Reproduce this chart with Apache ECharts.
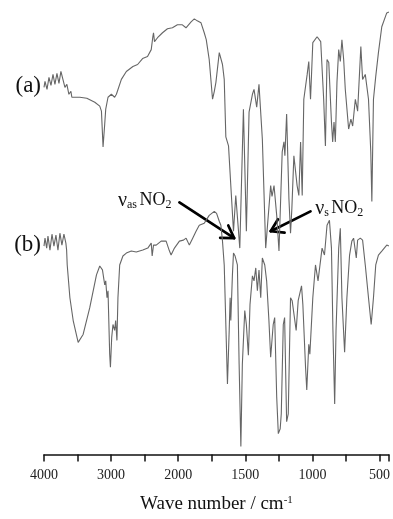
<!DOCTYPE html>
<html>
<head>
<meta charset="utf-8">
<script src="https://cdn.jsdelivr.net/npm/echarts@6/dist/echarts.min.js"></script>
<style>
html,body{margin:0;padding:0;background:#fff;}
#c{width:393px;height:519px;}
</style>
</head>
<body>
<div id="c"></div>
<script>
// Wavenumbers (cm-1) and relative transmittance (arbitrary units, offset traces)
const waveA = [4000,3985,3955,3926,3896,3866,3837,3807,3777,3748,3718,3688,3659,3629,3599,3585,3466,3362,3243,3169,3144,3120,3095,3080,3046,2996,2947,2921,2847,2773,2675,2605,2531,2457,2402,2378,2368,2353,2308,2234,2160,2086,2012,1969,1942,1904,1880,1858,1830,1806,1791,1769,1744,1731,1719,1694,1682,1670,1657,1645,1625,1608,1588,1571,1541,1514,1492,1472,1447,1435,1415,1398,1373,1348,1336,1311,1301,1286,1266,1249,1225,1212,1205,1192,1175,1163,1153,1138,1114,1101,1088,1076,1064,1039,1027,1014,997,965,953,938,916,903,891,878,858,849,839,829,817,804,792,780,767,755,730,713,700,680,663,639,626,606,582,565,557,545,528,508,483,446,430];
const transA = [370,376,368,380,372,383,373,384,374,386,378,370,373,363,366,360,360,359,355,351,346,310,333,348,360,363,360,363,378,386,391,393,399,401,408,421,425,416,420,425,429,430,433,433,430,436,439,437,435,425,418,398,358,366,375,405,406,393,378,320,311,271,225,261,208,348,225,345,363,368,350,373,318,208,206,271,260,271,241,205,305,315,301,343,258,223,248,301,271,261,315,261,358,383,396,358,415,421,421,416,358,311,398,395,335,315,335,315,375,408,396,418,398,368,328,338,331,358,346,411,378,383,358,305,255,358,381,405,431,445,446];

const waveB = [4000,3985,3960,3941,3911,3881,3852,3822,3792,3763,3733,3703,3674,3663,3654,3614,3565,3491,3466,3417,3318,3218,3169,3129,3095,3080,3061,3046,3021,3010,2991,2972,2947,2932,2913,2898,2872,2824,2773,2699,2625,2527,2453,2428,2402,2388,2368,2328,2254,2180,2130,2106,2056,1991,1961,1941,1917,1892,1867,1843,1806,1769,1731,1714,1694,1682,1670,1657,1633,1620,1613,1608,1596,1588,1576,1559,1546,1533,1522,1504,1492,1477,1465,1447,1435,1422,1410,1398,1385,1373,1355,1341,1324,1311,1292,1281,1266,1254,1240,1232,1217,1207,1192,1180,1163,1151,1121,1106,1081,1071,1051,1042,1027,1019,997,977,958,945,928,910,891,873,858,847,834,824,804,792,780,760,743,723,706,693,673,663,643,626,606,582,562,545,528,508,483,446,430];
const transB = [210,218,208,220,206,222,210,221,206,223,211,222,213,206,191,158,135,113,111,121,148,181,190,186,171,175,158,165,101,88,118,131,125,135,115,158,191,200,203,205,204,206,208,206,213,200,211,211,215,215,205,201,208,215,216,218,211,218,225,231,233,241,245,243,235,231,215,191,71,125,158,135,181,203,200,191,91,8,91,145,131,100,151,180,175,188,165,186,158,198,191,175,135,98,131,138,58,21,26,41,131,138,33,41,158,155,125,155,170,151,88,65,111,101,158,191,175,176,208,201,231,236,208,125,51,125,208,228,158,103,158,201,215,218,198,216,218,216,191,158,131,158,191,201,205,211,210];

const tickLabels = [4000, 3000, 2000, 1500, 1000, 500];
const traceNames = ['(a)', '(b)'];
const annotations = [
  {text: '{nu|\u03bd}{sub|as}{sp| }{m|NO}{sub|2}', at: [2500, 256], tail: [1991, 254], tip: [1583, 218]},
  {text: '{nu|\u03bd}{sub|s}{sp| }{m|NO}{sub|2}', at: [800, 248], tail: [1014, 245], tip: [1311, 225]}
];

// Split-scale IR axis: 4000-2000 compressed 2x relative to 2000-430
function toU(w) { return w >= 2000 ? (4000 - w) / 2 : 1000 + (2000 - w); }
function toW(u) { return u <= 1000 ? 4000 - 2 * u : 3000 - u; }

const dataA = waveA.map((w, i) => [toU(w), transA[i]]);
const dataB = waveB.map((w, i) => [toU(w), transB[i]]);

const chart = echarts.init(document.getElementById('c'), null, {renderer: 'canvas'});
const serif = 'Liberation Serif, Times New Roman, serif';
chart.setOption({
  animation: false,
  backgroundColor: '#fff',
  grid: {left: 44, right: 2.6, top: 0, bottom: 61},
  xAxis: {
    type: 'value', min: 0, max: toU(430), interval: 250,
    splitLine: {show: false},
    axisLine: {show: true, lineStyle: {color: '#111', width: 1.5}},
    axisTick: {show: true, length: 7, lineStyle: {color: '#111', width: 1.5}},
    axisLabel: {
      margin: 14, fontFamily: serif, fontSize: 14, color: '#222', showMaxLabel: true, showMinLabel: true,
      formatter: function (u) { const w = Math.round(toW(u)); return tickLabels.indexOf(w) >= 0 ? String(w) : ''; }
    },
    name: '{m|Wave number / cm}{sup|-1}',
    nameLocation: 'middle', nameGap: 40,
    nameTextStyle: {
      rich: {
        m: {fontFamily: serif, fontSize: 19, color: '#111', lineHeight: 20},
        sup: {fontFamily: serif, fontSize: 11, color: '#111', lineHeight: 11, verticalAlign: 'top'}
      }
    }
  },
  yAxis: {type: 'value', min: 0, max: 458, show: false},
  series: [
    {type: 'line', data: dataA, showSymbol: false, symbol: 'none', lineStyle: {color: '#666', width: 1.1}},
    {type: 'line', data: dataB, showSymbol: false, symbol: 'none', lineStyle: {color: '#666', width: 1.1}}
  ]
});

function px(w, v) { return chart.convertToPixel({xAxisIndex: 0, yAxisIndex: 0}, [toU(w), v]); }
const graphics = [];
[[waveA, transA], [waveB, transB]].forEach((d, i) => {
  const p = px(d[0][0], d[1][0]);
  graphics.push({type: 'text', x: p[0] - 3, y: p[1] - 1, style: {text: traceNames[i], fill: '#111', font: '23px ' + serif, align: 'right', verticalAlign: 'middle'}});
});
const sub = {fontFamily: serif, fontSize: 12, fill: '#111', lineHeight: 10, verticalAlign: 'bottom'};
annotations.forEach(a => {
  const c = px(a.at[0], a.at[1]);
  graphics.push({type: 'text', x: c[0], y: c[1], style: {
    text: a.text, align: 'center', verticalAlign: 'middle',
    rich: {
      nu: {fontFamily: serif, fontSize: 20, fill: '#111', lineHeight: 21},
      m: {fontFamily: serif, fontSize: 18, fill: '#111', lineHeight: 21},
      sp: {fontFamily: serif, fontSize: 10, lineHeight: 21},
      sub: sub
    }
  }});
  const t0 = px(a.tail[0], a.tail[1]);
  const t1 = px(a.tip[0], a.tip[1]);
  const ang = Math.atan2(t0[1] - t1[1], t0[0] - t1[0]);
  const L = 14, da = 32 * Math.PI / 180;
  const h1 = [t1[0] + L * Math.cos(ang + da), t1[1] + L * Math.sin(ang + da)];
  const h2 = [t1[0] + L * Math.cos(ang - da), t1[1] + L * Math.sin(ang - da)];
  const ls = {stroke: '#000', lineWidth: 2.7, lineCap: 'round', lineJoin: 'round', fill: null};
  graphics.push({type: 'polyline', shape: {points: [t0, t1]}, style: ls});
  graphics.push({type: 'polyline', shape: {points: [h1, t1, h2]}, style: ls});
});
chart.setOption({graphic: graphics});
</script>
</body>
</html>
